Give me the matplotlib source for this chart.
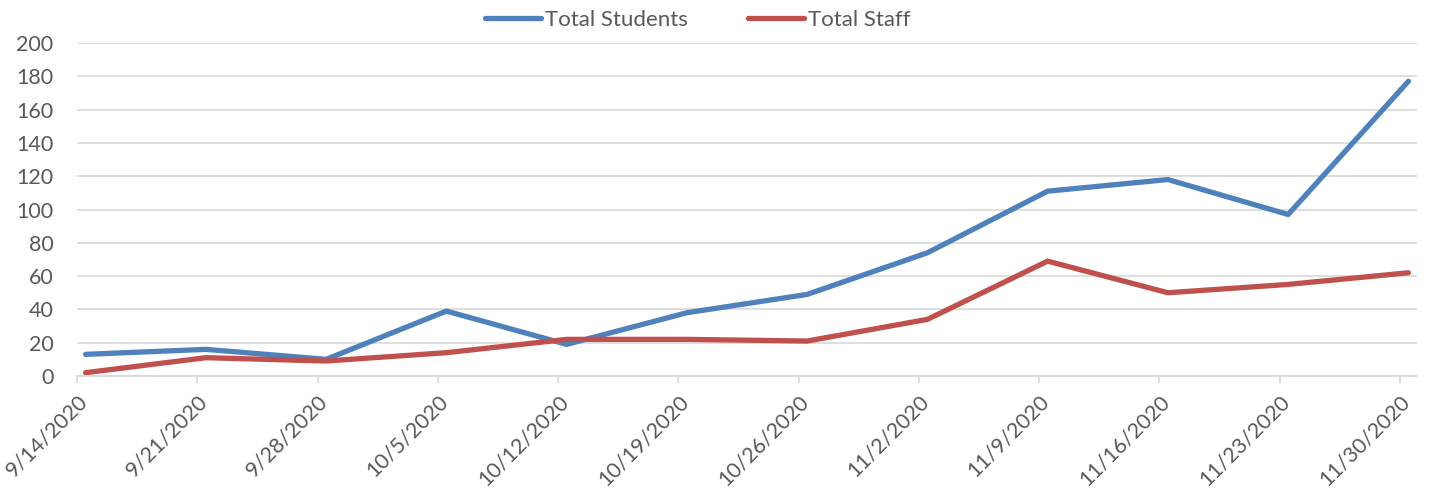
import datetime as dt
import matplotlib
matplotlib.use("Agg")
import matplotlib.pyplot as plt

week_labels = ["9/14/2020", "9/21/2020", "9/28/2020", "10/5/2020", "10/12/2020",
               "10/19/2020", "10/26/2020", "11/2/2020", "11/9/2020", "11/16/2020",
               "11/23/2020", "11/30/2020"]
total_students = [13, 16, 10, 39, 19, 38, 49, 74, 111, 118, 97, 177]
total_staff = [2, 11, 9, 14, 22, 22, 21, 34, 69, 50, 55, 62]

plt.rcParams['font.family'] = ['Lato', 'DejaVu Sans']
text_color = '#595959'
grid_color = '#d9d9d9'

weeks = [dt.datetime.strptime(s, "%m/%d/%Y") for s in week_labels]
# Excel date axis puts each point in the middle of its day
x_pts = [d + dt.timedelta(hours=12) for d in weeks]

fig = plt.figure(figsize=(14.29, 4.91), dpi=100)
ax = fig.add_axes([77 / 1429, 1 - 376 / 491, 1340 / 1429, 333 / 491])

ax.plot(x_pts, total_students, color='#4f81bd', lw=3.8, label='Total Students',
        solid_capstyle='round', solid_joinstyle='round')
ax.plot(x_pts, total_staff, color='#c0504d', lw=3.8, label='Total Staff',
        solid_capstyle='round', solid_joinstyle='round')

ax.set_xlim(weeks[0], weeks[-1] + dt.timedelta(days=1))
ax.set_ylim(0, 200)
ax.set_yticks(range(0, 201, 20))
ax.set_xticks(weeks)
ax.set_xticklabels(week_labels, rotation=45, ha='right', rotation_mode='anchor')

ax.grid(axis='y', color=grid_color, lw=1.2)
ax.set_axisbelow(True)
for side in ['top', 'right', 'left']:
    ax.spines[side].set_visible(False)
ax.spines['bottom'].set_color(grid_color)
ax.spines['bottom'].set_linewidth(1.2)

ax.tick_params(axis='y', length=0, pad=17, labelsize=15.5, labelcolor=text_color)
ax.tick_params(axis='x', length=5, width=1.2, color=grid_color, pad=6,
               labelsize=15.5, labelcolor=text_color)

leg = fig.legend(loc='center', bbox_to_anchor=(698 / 1429, 1 - 20 / 491), ncol=2,
                 frameon=False, fontsize=16, handlelength=2.5, handletextpad=0.2,
                 columnspacing=2.7)
for t in leg.get_texts():
    t.set_color(text_color)

fig.savefig('out.png', dpi=100)
